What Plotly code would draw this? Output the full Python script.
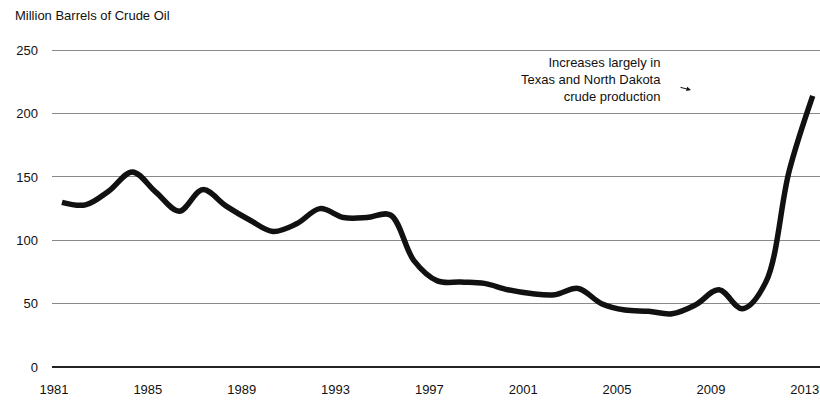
import plotly.graph_objects as go

# Annual crude oil volumes, million barrels
years = list(range(1981, 2014))
barrels = [130, 128, 139, 154, 138, 123, 140, 127, 116, 107,
           113, 125, 118, 118, 120, 84, 68, 67, 66, 61,
           58, 57, 62, 50, 45, 44, 42, 49, 61, 46,
           67, 155, 214]

tick_years = list(range(1981, 2014, 4))
y_ticks = [0, 50, 100, 150, 200, 250]

title_text = "Million Barrels of Crude Oil"
note_text = "Increases largely in<br>Texas and North Dakota<br>crude production"

FONT = "Liberation Sans, Arial, sans-serif"
INK = "#111111"

fig = go.Figure()
fig.add_trace(go.Scatter(
    x=years, y=barrels, mode="lines",
    line=dict(color=INK, width=5.5, shape="spline", smoothing=1.0),
    hoverinfo="skip", showlegend=False,
))

fig.update_layout(
    width=820, height=404,
    margin=dict(l=52, r=0, t=49, b=37),
    paper_bgcolor="white", plot_bgcolor="white",
    font=dict(family=FONT, size=13, color=INK),
    title=dict(text=title_text, xref="container", yref="container",
               x=15 / 820, y=1 - 15 / 404, xanchor="left", yanchor="middle",
               font=dict(family=FONT, size=13, color=INK)),
    xaxis=dict(range=[1980.574, 2013.31], tickvals=tick_years,
               ticktext=[str(y) for y in tick_years],
               showgrid=False, zeroline=False, showline=False,
               ticks="", ticklabelstandoff=13, ticklabelshift=-8,
               ticklabeloverflow="allow",
               tickfont=dict(family=FONT, size=13, color=INK)),
    yaxis=dict(range=[0, 251], tickvals=y_ticks,
               showgrid=True, gridcolor="#8a8a8a", gridwidth=1,
               zeroline=True, zerolinecolor="#222222", zerolinewidth=1.6,
               showline=False, ticks="", ticklabelstandoff=13,
               tickfont=dict(family=FONT, size=13, color=INK)),
)

fig.add_annotation(
    xref="paper", yref="paper", x=(663 - 52) / 768, y=(367 - 79) / 318,
    xanchor="right", yanchor="middle", align="right",
    text=note_text, showarrow=False,
    font=dict(family=FONT, size=13, color=INK),
)
fig.add_annotation(
    xref="paper", yref="paper", x=(691 - 52) / 768, y=(367 - 90) / 318,
    text="", showarrow=True, ax=-12, ay=-3,
    arrowhead=2, arrowsize=0.9, arrowwidth=1, arrowcolor=INK,
)

fig.write_html("out.html")
